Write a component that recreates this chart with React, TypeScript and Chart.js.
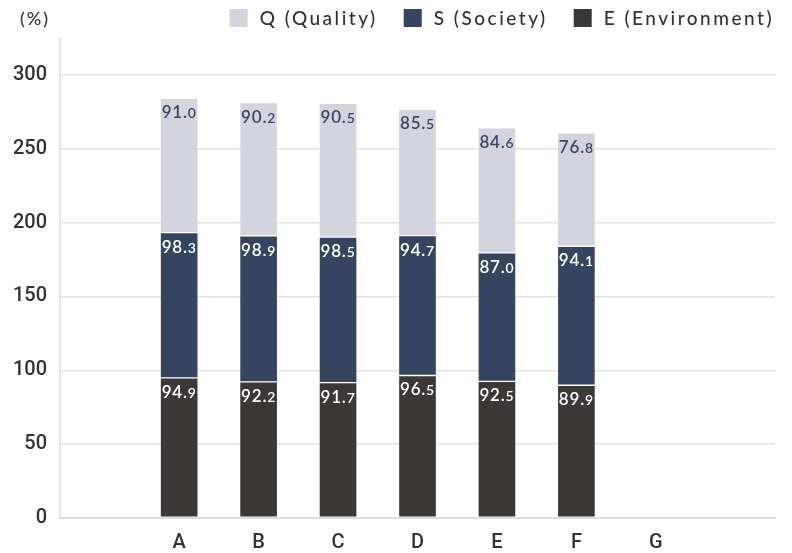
import React, { useEffect, useRef } from "react";
import { Chart, registerables } from "chart.js";

Chart.register(...registerables);

const categories = ["", "A", "B", "C", "D", "E", "F", "G", ""];
const eValues: (number | null)[] = [null, 94.9, 92.2, 91.7, 96.5, 92.5, 89.9, null, null];
const sValues: (number | null)[] = [null, 98.3, 98.9, 98.5, 94.7, 87.0, 94.1, null, null];
const qValues: (number | null)[] = [null, 91.0, 90.2, 90.5, 85.5, 84.6, 76.8, null, null];
const yTicks = [0, 50, 100, 150, 200, 250, 300];
const seriesNames = ["E (Environment)", "S (Society)", "Q (Quality)"];
const seriesColors = ["#3c3837", "#36445f", "#d3d4dd"];
const labelColors = ["#ffffff", "#ffffff", "#3a4863"];

const LABEL_FONT = "Lato, 'Noto Sans', sans-serif";
const TICK_FONT = "Roboto, 'Noto Sans', sans-serif";

const barLabelPlugin = {
  id: "barLabels",
  afterDatasetsDraw(chart: any) {
    const ctx = chart.ctx;
    chart.data.datasets.forEach((ds: any, di: number) => {
      const meta = chart.getDatasetMeta(di);
      meta.data.forEach((el: any, i: number) => {
        const v = ds.data[i];
        if (v === null || v === undefined) return;
        const s = v.toFixed(1);
        const [ip, dp] = s.split(".");
        const big = ip + ".";
        ctx.save();
        ctx.fillStyle = labelColors[di];
        ctx.textBaseline = "alphabetic";
        ctx.textAlign = "left";
        (ctx as any).letterSpacing = "0.8px";
        ctx.font = `600 17px ${LABEL_FONT}`;
        const w1 = ctx.measureText(big).width;
        ctx.font = `600 14px ${LABEL_FONT}`;
        const w2 = ctx.measureText(dp).width;
        const total = w1 + w2;
        const x0 = el.x - total / 2;
        const top = Math.min(el.y, el.base);
        const baseline = top + 20;
        ctx.font = `600 17px ${LABEL_FONT}`;
        ctx.fillText(big, x0, baseline);
        ctx.font = `600 14px ${LABEL_FONT}`;
        ctx.fillText(dp, x0 + w1, baseline);
        ctx.restore();
      });
    });
  },
};

const decorPlugin = {
  id: "decor",
  afterDraw(chart: any) {
    const ctx = chart.ctx;
    ctx.save();
    ctx.fillStyle = "#333333";
    ctx.font = `500 18px ${LABEL_FONT}`;
    ctx.textBaseline = "middle";
    ctx.textAlign = "left";
    (ctx as any).letterSpacing = "2px";
    ctx.fillText("(%)", 20, 19);
    const order = [2, 1, 0];
    ctx.font = `500 19px ${LABEL_FONT}`;
    (ctx as any).letterSpacing = "2.5px";
    const box = 18;
    const gapText = 12;
    const gapItem = 26;
    const widths = order.map((k) => ctx.measureText(seriesNames[k]).width);
    let totalW = 0;
    widths.forEach((w, idx) => {
      totalW += box + gapText + w + (idx < widths.length - 1 ? gapItem : 0);
    });
    let x = 774 - totalW;
    const cy = 18;
    order.forEach((k, idx) => {
      ctx.fillStyle = seriesColors[k];
      ctx.fillRect(x, cy - box / 2, box, box);
      x += box + gapText;
      ctx.fillStyle = "#333333";
      ctx.fillText(seriesNames[k], x, cy + 1);
      x += widths[idx] + gapItem;
    });
    ctx.restore();
  },
};

export default function App() {
  const ref = useRef<HTMLCanvasElement>(null);
  useEffect(() => {
    if (!ref.current) return;
    const datasets = [eValues, sValues, qValues].map((vals, k) => ({
      label: seriesNames[k],
      data: vals,
      backgroundColor: seriesColors[k],
      borderColor: "rgba(255,255,255,0.25)",
      borderWidth: 1,
      borderSkipped: false,
      barThickness: 38,
      stack: "s",
    }));
    const chart = new Chart(ref.current, {
      type: "bar",
      data: { labels: categories, datasets },
      options: {
        animation: false,
        responsive: false,
        maintainAspectRatio: false,
        layout: { padding: { top: 38, right: 17, left: 0, bottom: 0 } },
        plugins: { legend: { display: false }, tooltip: { enabled: false } },
        scales: {
          x: {
            stacked: true,
            grid: { display: false },
            border: { color: "#dcdce6", width: 2 },
            ticks: {
              color: "#333333",
              font: { family: TICK_FONT, size: 20, weight: 500 },
              padding: 5,
            },
            afterFit(scale: any) {
              scale.height = 35;
            },
          },
          y: {
            stacked: true,
            min: 0,
            max: 325,
            afterBuildTicks(axis: any) {
              axis.ticks = yTicks.map((v) => ({ value: v }));
            },
            grid: { color: "#e2e2ea", lineWidth: 1.5, drawTicks: false },
            border: { color: "#dcdce6", width: 1.5 },
            ticks: {
              color: "#333333",
              font: { family: TICK_FONT, size: 20, weight: 500 },
              padding: 13,
            },
            afterFit(scale: any) {
              scale.width = 60;
            },
          },
        },
      },
      plugins: [barLabelPlugin, decorPlugin],
    });
    return () => chart.destroy();
  }, []);
  return (
    <div style={{ position: "fixed", left: 0, top: 0, width: 792, height: 553, background: "#fff" }}>
      <canvas ref={ref} width={792} height={553} style={{ width: 792, height: 553 }} />
    </div>
  );
}
